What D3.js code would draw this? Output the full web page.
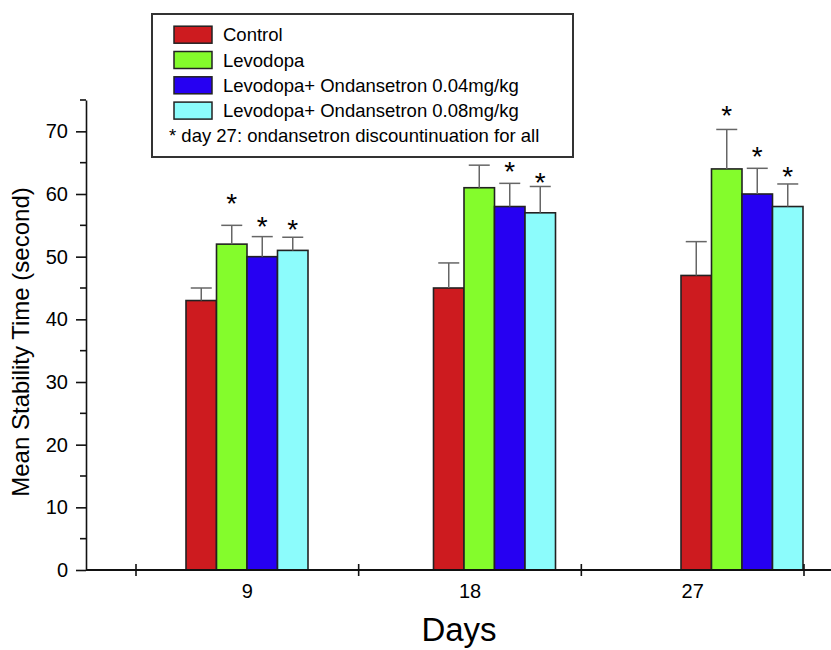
<!DOCTYPE html>
<html>
<head>
<meta charset="utf-8">
<script src="https://cdn.jsdelivr.net/npm/d3@7"></script>
<style>
  body { margin: 0; background: #fff; }
  text { font-family: Arial, "Liberation Sans", sans-serif; fill: #000; }
</style>
</head>
<body>
<div id="chart"></div>
<script>
// data
var days = [9, 18, 27];
var seriesNames = ["Control", "Levodopa", "Levodopa+ Ondansetron 0.04mg/kg", "Levodopa+ Ondansetron 0.08mg/kg"];
var seriesColors = ["#cd1b1f", "#84fc2c", "#2600f2", "#8cfcfc"];
var control = [43, 45, 47];
var levodopa = [52, 61, 64];
var ond004 = [50, 58, 60];
var ond008 = [51, 57, 58];
// upper error bar ends
var controlErr = [45, 49, 52.4];
var levodopaErr = [55, 64.6, 70.3];
var ond004Err = [53.2, 61.7, 64.1];
var ond008Err = [53.1, 61.2, 61.6];
// asterisk positions (value units), null = no asterisk
var controlStar = [null, null, null];
var levodopaStar = [59.5, null, 73.5];
var ond004Star = [55.8, 64.7, 67];
var ond008Star = [55.3, 62.8, 63.8];
var yTicks = [0, 10, 20, 30, 40, 50, 60, 70];
var footnote = "* day 27: ondansetron discountinuation for all";

var values = [control, levodopa, ond004, ond008];
var errs = [controlErr, levodopaErr, ond004Err, ond008Err];
var stars = [controlStar, levodopaStar, ond004Star, ond008Star];

var bars = [];
seriesNames.forEach(function (s, i) {
  days.forEach(function (d, j) {
    bars.push({ series: s, idx: i, day: d, value: values[i][j], err: errs[i][j], star: stars[i][j] });
  });
});

var width = 831, height = 650;
var svg = d3.select("#chart").append("svg")
  .attr("width", width).attr("height", height);

var y = d3.scaleLinear().domain([0, 75]).range([570, 100]);

// tick / label positions on the day axis
var xBand = d3.scaleBand().domain(days).range([136, 804]);
// bar group centres
var xGroup = d3.scaleLinear().domain([9, 27]).range([247, 742]);
var xInner = d3.scaleBand().domain(seriesNames).range([-61, 61]);

// bars
svg.append("g").selectAll("rect")
  .data(bars).enter().append("rect")
  .attr("x", function (d) { return xGroup(d.day) + xInner(d.series); })
  .attr("y", function (d) { return y(d.value); })
  .attr("width", xInner.bandwidth())
  .attr("height", function (d) { return y(0) - y(d.value); })
  .attr("fill", function (d) { return seriesColors[d.idx]; })
  .attr("stroke", "#222")
  .attr("stroke-width", 1.6);

// error bars (upper only)
var eb = svg.append("g").attr("stroke", "#666").attr("stroke-width", 1.5);
eb.selectAll("line.v").data(bars).enter().append("line")
  .attr("class", "v")
  .attr("x1", function (d) { return xGroup(d.day) + xInner(d.series) + xInner.bandwidth() / 2; })
  .attr("x2", function (d) { return xGroup(d.day) + xInner(d.series) + xInner.bandwidth() / 2; })
  .attr("y1", function (d) { return y(d.value); })
  .attr("y2", function (d) { return y(d.err); });
eb.selectAll("line.c").data(bars).enter().append("line")
  .attr("class", "c")
  .attr("x1", function (d) { return xGroup(d.day) + xInner(d.series) + xInner.bandwidth() / 2 - 10.5; })
  .attr("x2", function (d) { return xGroup(d.day) + xInner(d.series) + xInner.bandwidth() / 2 + 10.5; })
  .attr("y1", function (d) { return y(d.err); })
  .attr("y2", function (d) { return y(d.err); });

// asterisks
svg.append("g").selectAll("text")
  .data(bars.filter(function (d) { return d.star != null; }))
  .enter().append("text")
  .attr("x", function (d) { return xGroup(d.day) + xInner(d.series) + xInner.bandwidth() / 2; })
  .attr("y", function (d) { return y(d.star) + 16; })
  .attr("text-anchor", "middle")
  .style("font-size", "28px")
  .text("*");

// Y axis
var yAxis = svg.append("g")
  .attr("transform", "translate(86,0)")
  .call(d3.axisLeft(y).tickValues(yTicks).tickSize(10).tickPadding(8).tickSizeOuter(0));
yAxis.select(".domain").attr("stroke", "#111").attr("stroke-width", 1.6);
yAxis.selectAll(".tick line").attr("stroke", "#111").attr("stroke-width", 1.6);
yAxis.selectAll(".tick text").style("font-size", "20px").style("font-family", "Arial, 'Liberation Sans', sans-serif");
// minor ticks
svg.append("g").selectAll("line")
  .data(yTicks.map(function (t) { return t + 5; }))
  .enter().append("line")
  .attr("x1", 80).attr("x2", 86)
  .attr("y1", function (d) { return y(d); })
  .attr("y2", function (d) { return y(d); })
  .attr("stroke", "#111").attr("stroke-width", 1.6);

// X axis
svg.append("line")
  .attr("x1", 86).attr("x2", 831)
  .attr("y1", y(0)).attr("y2", y(0))
  .attr("stroke", "#111").attr("stroke-width", 1.8);
var xAxis = svg.append("g")
  .attr("transform", "translate(0," + y(0) + ")")
  .call(d3.axisBottom(xBand).tickSize(0).tickPadding(14));
xAxis.select(".domain").remove();
xAxis.selectAll(".tick text").style("font-size", "20px").style("font-family", "Arial, 'Liberation Sans', sans-serif");
// boundary ticks crossing the axis
var bounds = days.map(function (d) { return xBand(d); }).concat([xBand(days[days.length - 1]) + xBand.bandwidth()]);
svg.append("g").selectAll("line")
  .data(bounds).enter().append("line")
  .attr("x1", function (d) { return d; }).attr("x2", function (d) { return d; })
  .attr("y1", y(0) - 6).attr("y2", y(0) + 6)
  .attr("stroke", "#111").attr("stroke-width", 1.6);

// axis titles
svg.append("text")
  .attr("transform", "translate(29,342) rotate(-90)")
  .attr("text-anchor", "middle")
  .style("font-size", "24px")
  .text("Mean Stability Time (second)");
svg.append("text")
  .attr("x", 459).attr("y", 641)
  .attr("text-anchor", "middle")
  .style("font-size", "33px")
  .text("Days");

// legend
var legend = svg.append("g");
legend.append("rect")
  .attr("x", 152).attr("y", 14).attr("width", 421).attr("height", 143)
  .attr("fill", "#fff").attr("stroke", "#333").attr("stroke-width", 2);
var items = legend.selectAll("g.item").data(seriesNames).enter().append("g")
  .attr("class", "item")
  .attr("transform", function (d, i) { return "translate(0," + (34.7 + i * 25.3) + ")"; });
items.append("rect")
  .attr("x", 174).attr("y", -8.5).attr("width", 38).attr("height", 17)
  .attr("fill", function (d, i) { return seriesColors[i]; })
  .attr("stroke", "#222").attr("stroke-width", 1.5);
items.append("text")
  .attr("x", 223).attr("y", 6.5)
  .style("font-size", "18.5px")
  .text(function (d) { return d; });
legend.append("text")
  .attr("x", 169).attr("y", 34.7 + 4 * 25.3 + 6.5)
  .style("font-size", "18.5px")
  .text(footnote);
</script>
</body>
</html>
